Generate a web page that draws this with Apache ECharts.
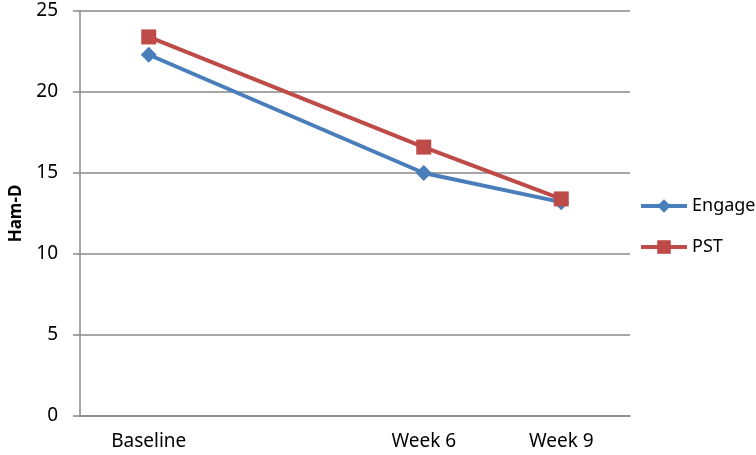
<!DOCTYPE html>
<html>
<head>
<meta charset="utf-8">
<script src="https://cdn.jsdelivr.net/npm/echarts@6/dist/echarts.min.js"></script>
<style>
  html, body { margin: 0; padding: 0; background: #fff; }
  #chart { width: 756px; height: 455px; }
</style>
</head>
<body>
<div id="chart"></div>
<script>
// categories (second slot is an empty spacer, as in the original)
var categories = ['Baseline', '', 'Week 6', 'Week 9'];
var engage = [22.3, null, 15.0, 13.2];
var pst = [23.4, null, 16.6, 13.4];
var yTicks = [0, 5, 10, 15, 20, 25];

var font = '"Noto Sans", "Open Sans", sans-serif';
var chart = echarts.init(document.getElementById('chart'));

chart.setOption({
  backgroundColor: '#fff',
  animation: false,
  grid: { left: 79, right: 126, top: 11, bottom: 39 },
  legend: {
    orient: 'vertical',
    left: 639,
    top: 197,
    padding: 0,
    itemWidth: 46,
    itemHeight: 17,
    itemGap: 23,
    lineStyle: { width: 4 },
    textStyle: { fontFamily: font, fontSize: 18, color: '#000' },
    data: ['Engage', 'PST']
  },
  xAxis: {
    type: 'category',
    data: categories,
    boundaryGap: true,
    axisLine: { lineStyle: { color: '#888', width: 1.5 } },
    axisTick: { show: false },
    axisLabel: { fontFamily: font, fontSize: 19, color: '#000', margin: 16 }
  },
  yAxis: {
    type: 'value',
    min: yTicks[0],
    max: yTicks[yTicks.length - 1],
    interval: 5,
    name: 'Ham-D',
    nameLocation: 'middle',
    nameGap: 55,
    nameRotate: 90,
    nameTextStyle: { fontFamily: font, fontSize: 17, fontWeight: 'bold', color: '#000' },
    axisLine: { show: true, lineStyle: { color: '#888', width: 1.5 } },
    axisTick: { show: true, length: 7, lineStyle: { color: '#888', width: 1.5 } },
    splitLine: { lineStyle: { color: '#888', width: 1.5 } },
    axisLabel: { fontFamily: font, fontSize: 19, color: '#000', margin: 22 }
  },
  series: [
    {
      name: 'Engage',
      type: 'line',
      data: engage,
      connectNulls: true,
      symbol: 'diamond',
      symbolSize: 16,
      lineStyle: { color: '#4A7EBB', width: 4 },
      itemStyle: { color: '#4A7EBB' }
    },
    {
      name: 'PST',
      type: 'line',
      data: pst,
      connectNulls: true,
      symbol: 'rect',
      symbolSize: 15,
      lineStyle: { color: '#BE4B48', width: 4 },
      itemStyle: { color: '#BE4B48' }
    }
  ]
});
</script>
</body>
</html>
